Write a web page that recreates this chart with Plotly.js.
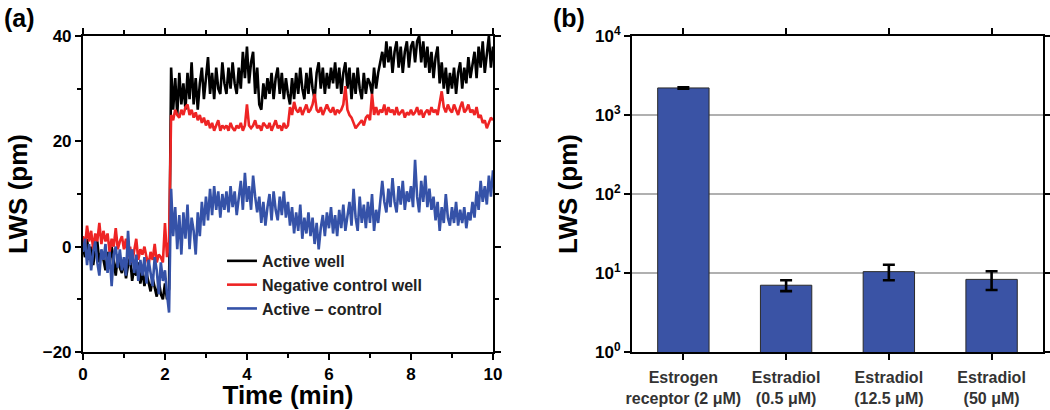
<!DOCTYPE html>
<html>
<head>
<meta charset="utf-8">
<script src="https://cdn.plot.ly/plotly-3.0.1.min.js"></script>
<style>html,body{margin:0;padding:0;background:#fff;}#chart{width:1050px;height:410px;}</style>
</head>
<body>
<div id="chart"></div>
<script>
// ---------- Panel (a): LWS vs time ----------
const timeMin = [
0.00,0.05,0.10,0.15,0.20,0.25,0.30,0.35,0.40,0.45,
0.50,0.55,0.60,0.65,0.70,0.75,0.80,0.85,0.90,0.95,
1.00,1.05,1.10,1.15,1.20,1.25,1.30,1.35,1.40,1.45,
1.50,1.55,1.60,1.65,1.70,1.75,1.80,1.85,1.90,1.95,
2.00,2.05,2.10,2.15,2.20,2.25,2.30,2.35,2.40,2.45,
2.50,2.55,2.60,2.65,2.70,2.75,2.80,2.85,2.90,2.95,
3.00,3.05,3.10,3.15,3.20,3.25,3.30,3.35,3.40,3.45,
3.50,3.55,3.60,3.65,3.70,3.75,3.80,3.85,3.90,3.95,
4.00,4.05,4.10,4.15,4.20,4.25,4.30,4.35,4.40,4.45,
4.50,4.55,4.60,4.65,4.70,4.75,4.80,4.85,4.90,4.95,
5.00,5.05,5.10,5.15,5.20,5.25,5.30,5.35,5.40,5.45,
5.50,5.55,5.60,5.65,5.70,5.75,5.80,5.85,5.90,5.95,
6.00,6.05,6.10,6.15,6.20,6.25,6.30,6.35,6.40,6.45,
6.50,6.55,6.60,6.65,6.70,6.75,6.80,6.85,6.90,6.95,
7.00,7.05,7.10,7.15,7.20,7.25,7.30,7.35,7.40,7.45,
7.50,7.55,7.60,7.65,7.70,7.75,7.80,7.85,7.90,7.95,
8.00,8.05,8.10,8.15,8.20,8.25,8.30,8.35,8.40,8.45,
8.50,8.55,8.60,8.65,8.70,8.75,8.80,8.85,8.90,8.95,
9.00,9.05,9.10,9.15,9.20,9.25,9.30,9.35,9.40,9.45,
9.50,9.55,9.60,9.65,9.70,9.75,9.80,9.85,9.90,9.95,
10.00];

const activeWell = [
0,-2,1.5,-2.5,0,-3.5,-0.5,1,-3,-1,
-2.5,-4.5,-1,-3.5,0,-3,-5.5,-1.5,-4,-5,
-2.5,-6,-3.5,-2,-6.5,-4,-5.5,-3,-7,-4.5,
-7.5,-5,-6.5,-8.5,-6,-8,-9.5,-6.5,-9,-10,
-7,-10,-8,34,26,32,25,33,27,31,
26,33,28,35,27,32,26,31,34,28,
32,36,29,33,28,34,30,29,35,31,
29,34,30,35,31,29,34,30,37,32,
38,31,35,37,29,34,27,26,31,28,
32,29,33,28,32,34,29,33,28,32,
29,27,32,28,33,29,34,30,28,33,
29,34,30,28,33,35,30,34,29,33,
30,34,31,35,30,34,29,33,35,30,
34,28,33,29,34,30,28,33,29,32,
31,29,34,30,33,35,37,34,39,35,
38,33,37,39,34,38,33,37,39,34,
38,39,35,39,40,35,39,34,38,33,
37,32,36,38,31,35,30,34,29,33,
30,34,29,33,35,30,34,31,36,32,
35,37,32,38,34,39,33,37,40,34,
38];

const negativeControl = [
2,0,4,1,3,-0.5,2.5,1,4.5,0.5,
3,1,2.5,-1,1.5,0,3.5,-0.5,1,2,
-0.5,1.5,-2,0,-3,-1,1.5,-2.5,-0.5,-1.5,
0,-2,-3.5,-1,-2.5,0.5,-3,-1.5,-2,-3,
4.5,-2,1,25,24,26,25,24.5,26,25,
26.5,27,25,26,24.5,25.5,24,25,23.5,24.5,
23,24,22.5,23.5,22,23,24,22,23,22.5,
23,22,23.5,22.5,22,23,22.5,23.5,22,23,
27,23,22.5,23,24,22.5,23,22,23.5,23,
22.5,23.5,22,23,24,22.5,23,22,23.5,22.5,
23,26.5,25,27.5,26,25.5,26.5,25,26,27,
25.5,26,27,29,26,25.5,26.5,25,26,27,
26,25.5,26.5,25,26,25.5,26,27,30.5,26,
25,24.5,23.5,22.5,23,23.5,24,23,24.5,25,
24,29,25,26.5,25,26,25.5,27,25,26.5,
25.5,26,25,26.5,25,25.5,26,24.5,25.5,25,
26,25,25.5,26.5,25,26,24.5,25.5,26,25,
26.5,25.5,26,25,27,29.5,26.5,25.5,27,26,
25.5,27,26,25,26.5,27.5,25.5,26,27,25.5,
26,25,26.5,24.5,25,23.5,24,22.5,23.5,24.5,
24];

const activeMinusControl = [
-1,1.5,-3.5,0.5,-4.5,-1,1,-3,-5.5,-0.5,
-2.5,0.5,-5,-1,-7.5,-1.5,0,-4,-0.5,-4.5,
-2,-5.5,3,-3.5,-0.5,-5,-1.5,-6.5,-2.5,-5.5,
-2,-7,-2.5,-5.5,-7.5,-2,-4.5,-9,-3,-6.5,
-4.5,-9,-12.5,11,2,7.5,-0.5,6,-1.5,6.5,
1.5,8,-0.5,5.5,3,-1.5,6.5,2,8.5,4,
9.5,5,11,6,11.5,7,10.5,5.5,10,7,
10.5,6.5,11.5,7.5,10.5,6,9.5,12.5,7,14,
8.5,11.5,7,13.5,9.5,6.5,9.5,4.5,8.5,4,
7.5,10,5,10.5,7,5,9.5,6,10.5,5.5,
8.5,4,7.5,2.5,6.5,3,8,1.5,5.5,2.5,
6.5,2,5.5,0.5,4.5,-0.5,3.5,6,2,6.5,
3.5,7.5,2.5,6,2,7,3.5,8,3,5.5,
8.5,4,11,5.5,3,9.5,4.5,8,3.5,8.5,
4.5,10,3,7,4.5,8.5,12.5,8.5,6.5,11,
7.5,13,8.5,6.5,11.5,8,12.5,7,10.5,8.5,
11.5,7.5,16.5,9.5,6.5,12.5,8.5,13.5,7.5,11,
7,9.5,5,8.5,3,7.5,4.5,10,5.5,4,
7.5,4.5,8.5,4,7,4.5,7.5,3.5,6.5,5,
8.5,5.5,10.5,7,12.5,8.5,11.5,8,13.5,9.5,
14.5];

const seriesNames = ["Active well", "Negative control well", "Active \u2013 control"];
const seriesColors = ["#000000", "#ee2424", "#3552a8"];

// ---------- Panel (b): bar chart ----------
const barCategories = ["Estrogen<br>receptor (2 \u03bcM)", "Estradiol<br>(0.5 \u03bcM)", "Estradiol<br>(12.5 \u03bcM)", "Estradiol<br>(50 \u03bcM)"];
const barValues = [2200, 7.0, 10.4, 8.3];
const barErrors = [50, 1.1, 2.3, 2.2];

const logTickVals = [1, 10, 100, 1000, 10000];
const logTickText = ["10<sup>0</sup>", "10<sup>1</sup>", "10<sup>2</sup>", "10<sup>3</sup>", "10<sup>4</sup>"];

const FONT = "Liberation Sans, Arial, sans-serif";
const boldTick = {family: FONT, size: 17, color: "#000", weight: 700};

const lineSeries = [activeWell, negativeControl, activeMinusControl];
const traces = lineSeries.map((ys, i) => ({
  type: "scatter", mode: "lines",
  x: timeMin, y: ys, name: seriesNames[i],
  line: {color: seriesColors[i], width: 2.6},
  xaxis: "x", yaxis: "y"
}));

traces.push({
  type: "bar", x: barCategories, y: barValues,
  width: 0.5, showlegend: false,
  marker: {color: "#3a53a5", line: {color: "#2a2a2a", width: 1}},
  error_y: {type: "data", array: barErrors, visible: true, color: "#000", thickness: 2.6, width: 6},
  xaxis: "x2", yaxis: "y2"
});

const axisCommon = {
  showline: true, linecolor: "#000", linewidth: 2,
  mirror: "allticks", ticks: "outside", ticklen: 6, tickwidth: 2, tickcolor: "#000",
  zeroline: false, showgrid: false, fixedrange: true
};

const layout = {
  width: 1050, height: 410,
  margin: {l: 0, r: 0, t: 0, b: 0},
  paper_bgcolor: "#fff", plot_bgcolor: "#fff",
  font: {family: FONT, color: "#000"},
  showlegend: true,
  legend: {
    x: 0.2114, xanchor: "left", y: 0.405, yanchor: "top",
    bgcolor: "rgba(0,0,0,0)", borderwidth: 0,
    font: {family: FONT, size: 16, color: "#222", weight: 700},
    tracegroupgap: 0
  },
  xaxis: Object.assign({}, axisCommon, {
    domain: [0.079, 0.4695], range: [0, 10], dtick: 2, tick0: 0,
    minor: {dtick: 1, ticklen: 4, tickwidth: 2, tickcolor: "#000", ticks: "outside"},
    tickfont: boldTick,
    title: {text: "Time (min)", font: {family: FONT, size: 26, weight: 700}, standoff: 4},
    anchor: "y"
  }),
  yaxis: Object.assign({}, axisCommon, {
    domain: [0.1415, 0.9122], range: [-20, 40], dtick: 20, tick0: 0,
    minor: {dtick: 10, ticklen: 4, tickwidth: 2, tickcolor: "#000", ticks: "outside"},
    tickfont: boldTick,
    title: {text: "LWS (pm)", font: {family: FONT, size: 26, weight: 700}, standoff: 8},
    anchor: "x"
  }),
  xaxis2: Object.assign({}, axisCommon, {
    domain: [0.6019, 0.9933], type: "category", range: [-0.5, 3.5],
    tickfont: {family: FONT, size: 16, color: "#333", weight: 700},
    ticklabelstandoff: 4,
    anchor: "y2"
  }),
  yaxis2: Object.assign({}, axisCommon, {
    domain: [0.1415, 0.9122], type: "log", range: [0, 4],
    tickvals: logTickVals, ticktext: logTickText,
    showgrid: true, gridcolor: "#b0b0b0", gridwidth: 1.5,
    tickfont: boldTick,
    title: {text: "LWS (pm)", font: {family: FONT, size: 26, weight: 700}, standoff: 10},
    anchor: "x2"
  }),
  annotations: [
    {text: "(a)", xref: "paper", yref: "paper", x: 0.002, y: 0.995, xanchor: "left", yanchor: "top",
     showarrow: false, font: {family: FONT, size: 25, weight: 700, color: "#000"}},
    {text: "(b)", xref: "paper", yref: "paper", x: 0.525, y: 0.995, xanchor: "left", yanchor: "top",
     showarrow: false, font: {family: FONT, size: 25, weight: 700, color: "#000"}}
  ]
};

Plotly.newPlot("chart", traces, layout, {displayModeBar: false, staticPlot: true});
</script>
</body>
</html>
